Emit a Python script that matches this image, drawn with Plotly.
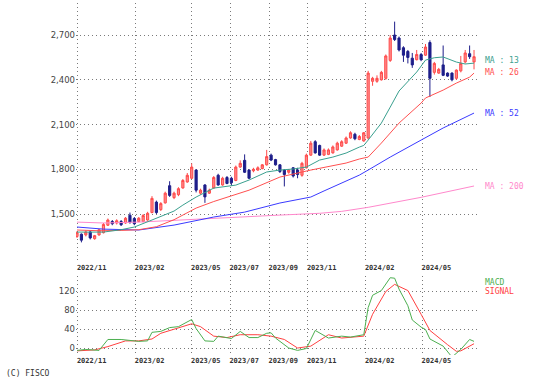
import pandas as pd
import plotly.graph_objects as go
from plotly.subplots import make_subplots

# ---- weekly candle data ----
start_date = "2022-10-31"
opens  = [1350,1365,1360,1380,1335,1360,1375,1425,1450,1440,1450,1440,1492,1470,1450,1450,1460,1510,1580,1530,
          1575,1690,1610,1630,1675,1715,1740,1795,1640,1695,1640,1675,1760,1695,1745,1740,1725,1815,1860,1795,
          1790,1795,1805,1830,1895,1865,1830,1795,1780,1810,1795,1760,1810,1895,1985,1960,1895,1900,1910,1930,
          1955,1975,2010,2035,2000,1990,2010,2390,2390,2400,2410,2530,2700,2680,2615,2590,2545,2535,2570,2565,
          2650,2450,2445,2500,2445,2445,2410,2460,2520,2575,2520]
highs  = [1385,1370,1390,1390,1360,1400,1440,1470,1460,1465,1460,1480,1510,1480,1480,1500,1515,1620,1590,1580,
          1650,1720,1650,1680,1735,1775,1840,1800,1670,1700,1670,1755,1770,1750,1755,1750,1825,1860,1900,1800,
          1810,1820,1835,1930,1905,1870,1835,1800,1800,1815,1810,1850,1905,1990,1995,1965,1940,1940,1960,1985,
          1995,2020,2055,2045,2030,2050,2460,2420,2430,2460,2570,2700,2790,2690,2625,2600,2580,2600,2580,2640,
          2665,2520,2480,2630,2450,2450,2470,2560,2600,2630,2600]
lows   = [1340,1310,1350,1330,1328,1355,1370,1420,1425,1430,1420,1435,1435,1425,1445,1445,1455,1505,1500,1520,
          1570,1615,1600,1620,1670,1710,1735,1645,1630,1575,1635,1670,1690,1690,1700,1690,1720,1810,1775,1735,
          1780,1790,1800,1825,1855,1825,1775,1685,1770,1745,1740,1750,1805,1890,1905,1890,1890,1895,1905,1925,
          1950,1970,2005,1995,1995,1985,2000,2360,2380,2395,2400,2520,2660,2590,2520,2510,2480,2530,2525,2560,
          2285,2435,2440,2425,2420,2390,2400,2450,2510,2540,2470]
closes = [1375,1325,1380,1340,1355,1395,1430,1460,1435,1455,1428,1472,1445,1435,1472,1490,1505,1605,1510,1570,
          1640,1625,1640,1670,1725,1760,1815,1660,1660,1615,1660,1745,1695,1740,1705,1710,1815,1840,1780,1740,
          1800,1810,1830,1885,1862,1830,1785,1765,1795,1755,1765,1840,1895,1975,1910,1895,1930,1930,1950,1975,
          1985,2010,2045,2005,2020,2045,2445,2410,2410,2450,2560,2680,2670,2600,2565,2550,2500,2570,2535,2620,
          2410,2510,2470,2430,2425,2400,2465,2510,2580,2555,2555]

# ---- moving averages (week index, value) ----
ma13_idx = [0,6,10,13,17,22,24,27,31,36,39,43,46,49,52,55,58,61,64,65,66,69,71,73,77,79,81,83,86,88,90]
ma13_val = [1379,1379,1395,1413,1460,1520,1560,1614,1674,1694,1728,1782,1795,1802,1815,1862,1882,1909,1949,1960,
            1996,2110,2217,2325,2452,2532,2548,2553,2519,2506,2512]
ma26_idx = [0,5,10,14,18,22,27,31,39,46,53,61,64,66,69,73,78,79,83,86,89,90]
ma26_val = [1393,1388,1390,1395,1415,1462,1540,1584,1660,1748,1795,1842,1869,1882,1976,2110,2244,2278,2331,2378,2418,2445]
ma52_idx = [0,6,14,22,31,38,46,53,56,60,64,66,71,78,83,90]
ma52_val = [1413,1399,1393,1426,1480,1513,1574,1614,1655,1710,1761,1795,1882,1996,2077,2177]
ma200_idx = [0,6,14,23,35,46,55,60,66,78,90]
ma200_val = [1446,1440,1446,1460,1480,1493,1505,1518,1545,1612,1688]

# ---- MACD / signal (week index, value) ----
macd_idx = [0,2,5,7,10,13,14,16,17,19,21,23,26,27,29,31,32,35,37,39,41,43,44,45,48,50,52,54,57,60,62,65,
            66,67,69,71,72,73,75,76,78,79,80,83,85,87,89,90]
macd_val = [-4,-2,-4,19,19,17,15,16,34,36,44,46,61,42,16,15,26,21,36,23,23,32,33,22,1,-4,0,38,22,26,24,29,
            86,112,122,149,148,125,90,60,45,40,20,5,-18,-2,19,15]
sig_idx = [0,4,7,11,14,17,19,23,26,28,31,34,37,41,43,44,47,50,53,57,60,65,67,70,72,75,78,80,84,86,87,90]
sig_val = [-5,-3,4,16,16,20,32,44,52,46,26,23,29,29,27,26,19,1,5,29,22,26,72,120,135,122,72,38,8,-6,-5,10]

price_ticks = [1500, 1800, 2100, 2400, 2700]
macd_ticks = [0, 40, 80, 120]
month_ticks = ["2022-11-01","2023-02-01","2023-05-01","2023-07-01","2023-09-01","2023-11-01","2024-02-01","2024-05-01"]
month_labels = ["2022/11","2023/02","2023/05","2023/07","2023/09","2023/11","2024/02","2024/05"]

dates = pd.date_range(start_date, periods=len(closes), freq="7D")
def dx(idx):
    return [dates[i] for i in idx]

C_MA13 = "#3aa08f"
C_MA26 = "#ff5050"
C_MA52 = "#3a3aff"
C_MA200 = "#ff88cc"
C_MACD = "#4caf50"
C_SIG = "#ff4040"

fig = make_subplots(rows=2, cols=1)

fig.add_trace(go.Candlestick(
    x=dates, open=opens, high=highs, low=lows, close=closes,
    increasing=dict(line=dict(color="#ff4a4a", width=1), fillcolor="#ff8a8a"),
    decreasing=dict(line=dict(color="#1e1e8a", width=1), fillcolor="#1e1e8a"),
    whiskerwidth=0, showlegend=False), row=1, col=1)

for idx, val, col in [(ma200_idx, ma200_val, C_MA200), (ma52_idx, ma52_val, C_MA52),
                      (ma26_idx, ma26_val, C_MA26), (ma13_idx, ma13_val, C_MA13)]:
    fig.add_trace(go.Scatter(x=dx(idx), y=val, mode="lines", line=dict(color=col, width=1),
                             showlegend=False, hoverinfo="skip"), row=1, col=1)

fig.add_trace(go.Scatter(x=dx(sig_idx), y=sig_val, mode="lines", line=dict(color=C_SIG, width=1),
                         showlegend=False), row=2, col=1)
fig.add_trace(go.Scatter(x=dx(macd_idx), y=macd_val, mode="lines", line=dict(color=C_MACD, width=1),
                         showlegend=False), row=2, col=1)

grid = dict(showgrid=True, gridcolor="#7a7a7a", griddash="1px,3px", gridwidth=1,
            zeroline=False, showline=False, ticks="")
xcommon = dict(type="date", range=["2022-10-29 10:00", "2024-07-28 07:00"],
               tickmode="array", tickvals=month_ticks, ticktext=month_labels,
               tickfont=dict(family="DejaVu Sans Mono", size=7, color="#333", weight="bold"),
               ticklabelshift=14, rangeslider=dict(visible=False), **grid)
fig.update_xaxes(**xcommon)
fig.update_layout(
    yaxis=dict(domain=[0.264, 1.0], range=[1178, 2915], tickmode="array", tickvals=price_ticks,
               tickformat=",", tickfont=dict(family="DejaVu Sans", size=8.5, color="#444"), **grid),
    yaxis2=dict(domain=[0.0, 0.2244], range=[-13.7, 152.6], tickmode="array", tickvals=macd_ticks,
                tickfont=dict(family="DejaVu Sans", size=8.5, color="#444"), **grid),
)

mono = "DejaVu Sans Mono"
def label(text, yval, color, yshift=0, yref="y"):
    fig.add_annotation(text=text, xref="paper", x=1.0, xanchor="left", xshift=6,
                       yref=yref, y=yval, yanchor="middle", yshift=yshift, showarrow=False,
                       borderpad=0, font=dict(family=mono, size=8, color=color))

label("MA : 13", ma13_val[-1], C_MA13, yshift=3)
label("MA : 26", ma26_val[-1], C_MA26, yshift=1)
label("MA : 52", ma52_val[-1], C_MA52)
label("MA : 200", ma200_val[-1], C_MA200)
label("MACD", 0.207, C_MACD, yref="paper")
label("SIGNAL", 0.179, C_SIG, yref="paper")
fig.add_annotation(text="(C) FISCO", xref="paper", x=0, xanchor="left", xshift=-71,
                   yref="paper", y=0, yanchor="middle", yshift=-18.5, showarrow=False,
                   borderpad=0, font=dict(family=mono, size=8, color="#333"))

fig.update_layout(width=533, height=385, margin=dict(l=76, r=55, t=3, b=30),
                  paper_bgcolor="white", plot_bgcolor="white", showlegend=False)
fig.write_html("out.html", config={"displayModeBar": False},
               post_script="document.body.style.margin='0';")
